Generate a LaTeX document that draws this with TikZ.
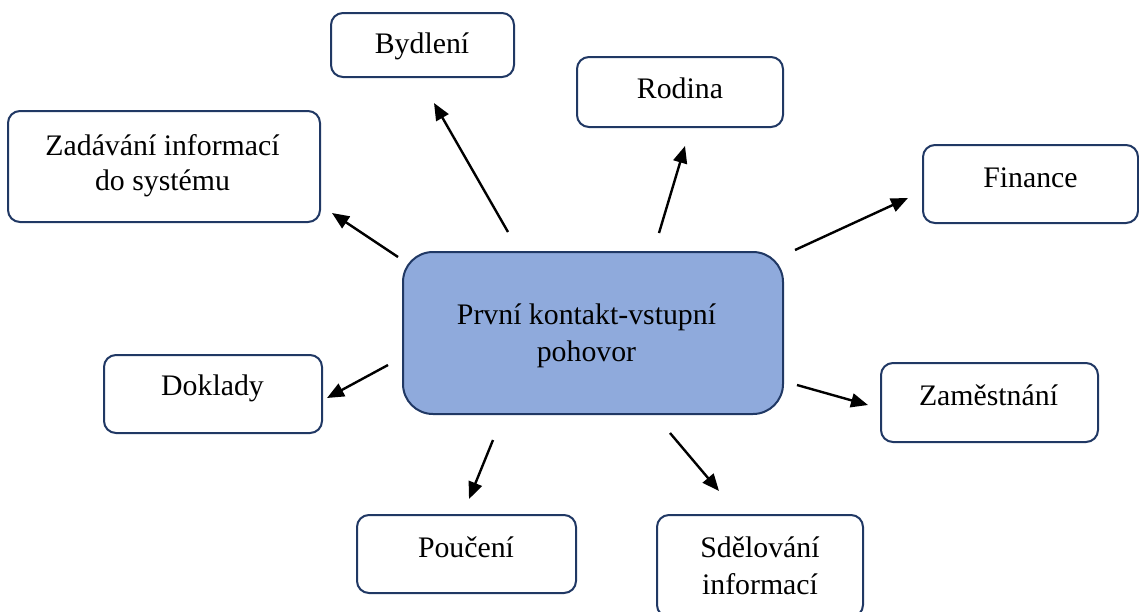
\documentclass[tikz,border=0pt]{standalone}
\usepackage{fontspec}
\setmainfont{Liberation Serif}
\usetikzlibrary{arrows.meta}
\definecolor{boxline}{HTML}{203864}
\definecolor{hubfill}{HTML}{8FAADC}
\begin{document}
\begin{tikzpicture}[x=1pt,y=-1pt,
  lbl/.style={font=\fontsize{29.8}{36}\selectfont, anchor=base, inner sep=0pt},
  topic/.style={draw=boxline, line width=2pt, rounded corners=12pt, fill=white, inner sep=0pt},
  hub/.style={draw=boxline, line width=2pt, rounded corners=30pt, fill=hubfill, inner sep=0pt},
  arr/.style={line width=2.4pt, -{Triangle[length=17pt,width=14pt]}}]
\clip (0,0) rectangle (1139,611);
\fill[white] (0,0) rectangle (1139,611);
% hub
\node[hub, minimum width=380pt, minimum height=162pt] (hub) at (593,333) {};
\node[lbl] (hubT1) at (586.5,324) {První kontakt-vstupní};
\node[lbl] (hubT2) at (586.5,361) {pohovor};
% topics
\node[topic, minimum width=183pt, minimum height=64pt] (bydleni) at (422.5,45) {};
\node[lbl] (bydleniT) at (422,53) {Bydlení};
\node[topic, minimum width=206pt, minimum height=70pt] (rodina) at (680,92) {};
\node[lbl] (rodinaT) at (680,98) {Rodina};
\node[topic, minimum width=312pt, minimum height=111pt] (zadavani) at (164,166.5) {};
\node[lbl] (zadavaniT1) at (162.5,155) {Zadávání informací};
\node[lbl] (zadavaniT2) at (162.5,190) {do systému};
\node[topic, minimum width=215pt, minimum height=78pt] (finance) at (1030.5,184) {};
\node[lbl] (financeT) at (1030.5,187) {Finance};
\node[topic, minimum width=218pt, minimum height=78pt] (doklady) at (213,394) {};
\node[lbl] (dokladyT) at (212.5,395) {Doklady};
\node[topic, minimum width=217pt, minimum height=79pt] (zamestnani) at (989.5,402.5) {};
\node[lbl] (zamestnaniT) at (988.5,405) {Zaměstnání};
\node[topic, minimum width=219pt, minimum height=78pt] (pouceni) at (466.5,554) {};
\node[lbl] (pouceniT) at (466,557) {Poučení};
\node[topic, minimum width=206pt, minimum height=102pt] (sdelovani) at (760,566) {};
\node[lbl] (sdelovaniT1) at (760,557) {Sdělování};
\node[lbl] (sdelovaniT2) at (760,594) {informací};
% arrow end points
\coordinate (bS) at (508,232); \coordinate (bE) at (434,103);
\coordinate (rS) at (659,233); \coordinate (rE) at (685,146);
\coordinate (zS) at (398,257); \coordinate (zE) at (332,213);
\coordinate (fS) at (795,250); \coordinate (fE) at (908,198);
\coordinate (dS) at (388,365); \coordinate (dE) at (327,398);
\coordinate (mS) at (797,385); \coordinate (mE) at (868,405);
\coordinate (pS) at (493,440); \coordinate (pE) at (469,499);
\coordinate (sS) at (670,433); \coordinate (sE) at (719,491);
% arrows
\draw[arr] (bS) -- (bE);
\draw[arr] (rS) -- (rE);
\draw[arr] (zS) -- (zE);
\draw[arr] (fS) -- (fE);
\draw[arr] (dS) -- (dE);
\draw[arr] (mS) -- (mE);
\draw[arr] (pS) -- (pE);
\draw[arr] (sS) -- (sE);
\end{tikzpicture}
\end{document}
